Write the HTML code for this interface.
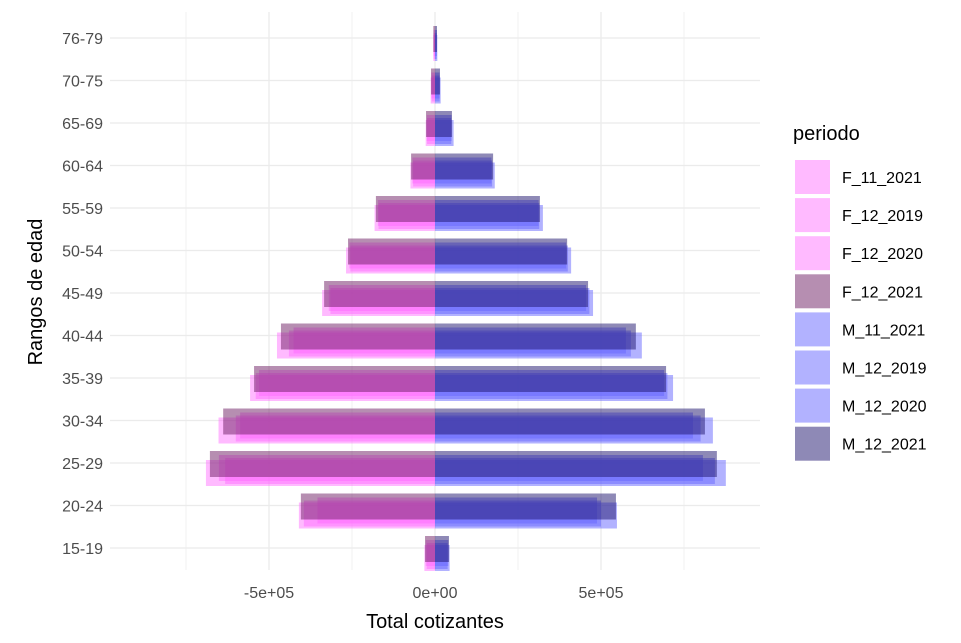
<!DOCTYPE html>
<html><head><meta charset="utf-8"><style>body{margin:0;background:#fff;font-family:"Liberation Sans",sans-serif}</style></head>
<body>
<svg id="c" width="961" height="638" xmlns="http://www.w3.org/2000/svg" font-family="Liberation Sans, sans-serif"></svg>
<script>
const categories=["15-19","20-24","25-29","30-34","35-39","40-44","45-49","50-54","55-59","60-64","65-69","70-75","76-79"];
const F_11_2021=[-28,-354,-651,-587,-530,-426,-320,-258,-172,-68,-25,-11,-4];
const F_12_2019=[-25,-395,-632,-600,-540,-440,-315,-255,-170,-66,-24,-10,-4];
const F_12_2020=[-32,-410,-690,-652,-557,-476,-340,-268,-182,-74,-28,-13,-5];
const F_12_2021=[-30,-404,-678,-638,-545,-464,-334,-262,-178,-72,-27,-12,-5];
const M_11_2021=[40,488,807,777,690,575,455,395,312,170,50,14,6];
const M_12_2019=[38,500,843,800,700,590,465,400,314,172,49,14,5];
const M_12_2020=[44,548,876,837,717,623,476,410,325,180,56,17,7];
const M_12_2021=[42,545,849,813,696,605,461,398,316,175,51,15,6];
const xTicks=[-500,0,500];
const xTickLabels=["-5e+05","0e+00","5e+05"];
const series=[
 ["F_11_2021",F_11_2021,"rgba(255,102,255,0.45)",-8],
 ["F_12_2019",F_12_2019,"rgba(255,102,255,0.45)",-5],
 ["F_12_2020",F_12_2020,"rgba(255,102,255,0.45)",-3],
 ["F_12_2021",F_12_2021,"rgba(110,30,100,0.5)",-12],
 ["M_11_2021",M_11_2021,"rgba(102,102,255,0.5)",-8],
 ["M_12_2019",M_12_2019,"rgba(102,102,255,0.5)",-5],
 ["M_12_2020",M_12_2020,"rgba(102,102,255,0.5)",-3],
 ["M_12_2021",M_12_2021,"rgba(30,20,110,0.5)",-12]];
const svg=document.getElementById('c');const NS="http://www.w3.org/2000/svg";
function mk(t,a,p){const e=document.createElementNS(NS,t);for(const k in a)e.setAttribute(k,a[k]);(p||svg).appendChild(e);return e;}
const L=110,R=760,T=12,B=570;
const xs=v=>435+v*166/500;
const ys=i=>548-i*42.5;
const g=mk('g',{});
[-750,-250,250,750].forEach(v=>{mk('line',{x1:xs(v),x2:xs(v),y1:T,y2:B,stroke:'#f0f0f0','stroke-width':1},g)});
xTicks.forEach(v=>mk('line',{x1:xs(v),x2:xs(v),y1:T,y2:B,stroke:'#ebebeb','stroke-width':1.3},g));
categories.forEach((c,i)=>mk('line',{x1:L,x2:R,y1:ys(i),y2:ys(i),stroke:'#ebebeb','stroke-width':1.3},g));
series.forEach(s=>{const gg=mk('g',{});
 s[1].forEach((v,i)=>{const x0=xs(Math.min(0,v)),x1=xs(Math.max(0,v));
  const r=mk('rect',{x:x0,y:ys(i)+s[3],width:x1-x0,height:26,fill:s[2]},gg);
  
  });});
categories.forEach((c,i)=>{const t=mk('text',{x:103,y:ys(i)+6,'text-anchor':'end','font-size':16,fill:'#4d4d4d'});t.textContent=c;
 });
xTicks.forEach((v,i)=>{const t=mk('text',{x:xs(v),y:598,'text-anchor':'middle','font-size':16,fill:'#4d4d4d'});t.textContent=xTickLabels[i];
 });
let t=mk('text',{x:435,y:628,'text-anchor':'middle','font-size':20,fill:'#000'});t.textContent='Total cotizantes';

t=mk('text',{x:0,y:0,transform:'translate(42,292) rotate(-90)','text-anchor':'middle','font-size':20,fill:'#000'});t.textContent='Rangos de edad';

const lg=mk('g',{});
t=mk('text',{x:793,y:140,'font-size':20,fill:'#000'},lg);t.textContent='periodo';

series.forEach((s,i)=>{const cy=177+i*38.1;
 const r=mk('rect',{x:795,y:cy-17,width:35,height:34,fill:s[2]},lg);
 
 const tt=mk('text',{x:842,y:cy+6,'font-size':16,fill:'#000'},lg);tt.textContent=s[0];
 });
</script>
</body></html>
